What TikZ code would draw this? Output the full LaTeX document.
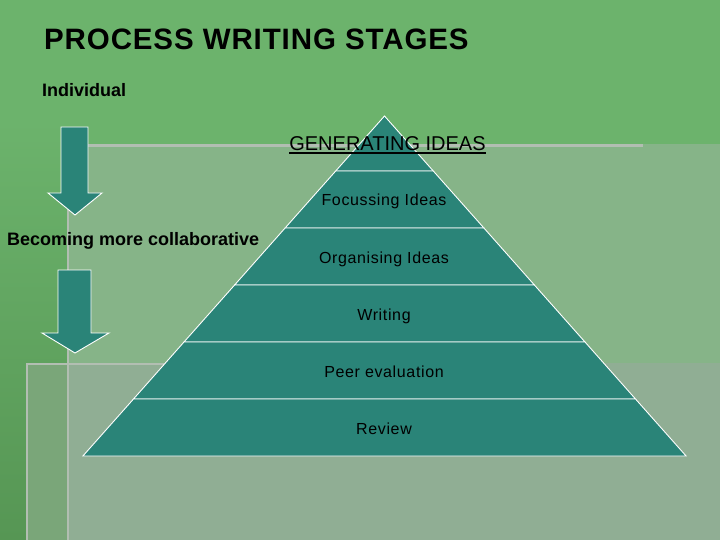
\documentclass[tikz,border=0pt]{standalone}
\usepackage{fontspec}
\setmainfont{Liberation Sans}

\definecolor{bgGreen}{RGB}{108,179,108}
\definecolor{bgDark}{RGB}{86,150,84}
\definecolor{panelUp}{RGB}{134,180,136}
\definecolor{panelLow}{RGB}{144,174,148}
\definecolor{panelLowLeft}{RGB}{122,166,121}
\definecolor{panelEdge}{RGB}{178,190,178}
\definecolor{stageTeal}{RGB}{42,132,120}

\tikzset{
  stagebox/.style={draw=white, line width=0.9pt, fill=stageTeal},
  stagelabel/.style={font=\fontsize{16}{19}\selectfont\addfontfeature{LetterSpace=4}, text=black, inner sep=0pt, anchor=base},
  sidelabel/.style={font=\fontsize{18}{21}\selectfont\bfseries, text=black, inner sep=0pt, anchor=base west}
}

\begin{document}
\begin{tikzpicture}[x=1pt,y=1pt,yscale=-1,xscale=1]
\useasboundingbox (0,0) rectangle (720,540);

%Shape: Rectangle [background]
\fill [bgGreen] (0,0) rectangle (720,540);
\shade [top color=bgGreen, bottom color=bgDark] (0,120) rectangle (68,540);
%Shape: Rectangle [upper panel]
\fill [panelUp] (68,144) rectangle (720,540);
%Shape: Rectangle [lower panel]
\fill [panelLowLeft] (26,363) rectangle (68,540);
\fill [panelLow] (68,363) rectangle (720,540);
%Straight Lines [panel edges]
\draw [panelEdge, line width=3] (68,145.5) -- (643,145.5);
\draw [panelEdge, line width=2.5] (68,144) -- (68,540);
\draw [panelEdge, line width=2] (27,364) -- (165,364);
\draw [panelEdge, line width=2.5] (27,363) -- (27,540);

%Shape: Down Arrow [upper]
\draw [stagebox] (61,127) -- (88,127) -- (88,193) -- (102,193) -- (75,215) -- (48,193) -- (61,193) -- cycle ;
%Shape: Down Arrow [lower]
\draw [stagebox] (58,270) -- (91,270) -- (91,333) -- (109,333) -- (75,353) -- (42,333) -- (58,333) -- cycle ;

%Shape: Triangle [top stage]
\draw [stagebox] (384.5,116) -- (433.3,171) -- (335.7,171) -- cycle ;
%Shape: Trapezoid
\draw [stagebox] (335.7,171) -- (433.3,171) -- (483.9,228) -- (285.1,228) -- cycle ;
%Shape: Trapezoid
\draw [stagebox] (285.1,228) -- (483.9,228) -- (534.4,285) -- (234.6,285) -- cycle ;
%Shape: Trapezoid
\draw [stagebox] (234.6,285) -- (534.4,285) -- (585.0,342) -- (184.0,342) -- cycle ;
%Shape: Trapezoid
\draw [stagebox] (184.0,342) -- (585.0,342) -- (635.5,399) -- (133.5,399) -- cycle ;
%Shape: Trapezoid
\draw [stagebox] (133.5,399) -- (635.5,399) -- (686.1,456) -- (82.9,456) -- cycle ;

% Text Node
\node [font=\fontsize{29.5}{34}\selectfont\bfseries\addfontfeature{LetterSpace=3}, inner sep=0pt, anchor=base west] (title) at (44,50) {PROCESS WRITING STAGES};
% Text Node
\node [sidelabel] (individual) at (42,96.5) {Individual};
% Text Node
\node [sidelabel] (collab) at (7,245.5) {Becoming more collaborative};
% Text Node
\node [font=\fontsize{20}{24}\selectfont, inner sep=0pt, anchor=base] (genIdeas) at (387.5,150.5) {GENERATING IDEAS};
\draw [line width=1.6] ([yshift=2.6]genIdeas.base west) -- ([yshift=2.6]genIdeas.base east);
% Text Node
\node [stagelabel] (focusIdeas) at (384,206) {Focussing Ideas};
% Text Node
\node [stagelabel] (organiseIdeas) at (384,263) {Organising Ideas};
% Text Node
\node [stagelabel] (writing) at (384,320) {Writing};
% Text Node
\node [stagelabel] (peerEval) at (384,377) {Peer evaluation};
% Text Node
\node [stagelabel] (review) at (384,434) {Review};

\end{tikzpicture}
\end{document}
